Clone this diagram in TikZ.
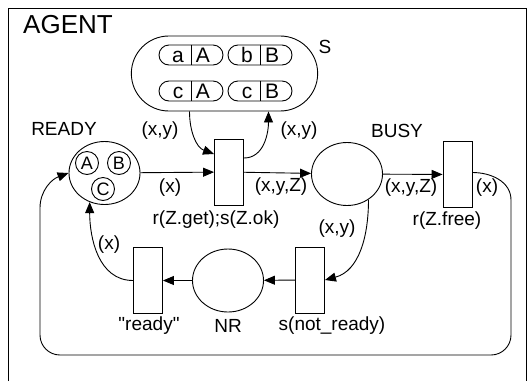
\documentclass[tikz,border=0pt]{standalone}
\usepackage{fontspec}
\setmainfont{Liberation Sans}
\usetikzlibrary{arrows.meta, shapes.geometric, shapes.misc}

\begin{document}
\begin{tikzpicture}[x=1pt, y=-1pt, >={Triangle[length=11pt,width=9pt]}, line width=0.9pt,
    place/.style={ellipse, draw, minimum width=71pt, minimum height=63pt, inner sep=0pt},
    trans/.style={rectangle, draw, minimum width=29pt, minimum height=66pt, inner sep=0pt},
    lbl/.style={font=\fontsize{19}{19}\selectfont, inner sep=0pt},
    token/.style={circle, draw, minimum size=23pt, inner sep=0pt, font=\fontsize{18}{18}\selectfont},
    pill/.style={rounded rectangle, draw, minimum width=64pt, minimum height=20pt, inner sep=0pt},
    pilltxt/.style={font=\fontsize{21}{21}\selectfont, inner sep=0pt, anchor=base}]
    \useasboundingbox (0,0) rectangle (527,381);

    % 1. Khung AGENT
    \draw (8,381) -- (8,8) -- (526,8) -- (526,381);
    \node[lbl, font=\fontsize{26}{26}\selectfont] (agent) at (68,25) {AGENT};

    % 2. Vị trí S với các thẻ
    \node[rounded rectangle, draw, minimum width=193pt, minimum height=75pt] (s) at (224.5,73.5) {};
    \node[lbl] (slbl) at (325,47) {S};
    \foreach \n/\px/\py/\lt/\rt in {paA/191/55/a/A, pbB/260/55/b/B, pcA/191/91/c/A, pcB/260/91/c/B} {
        \node[pill] (\n) at (\px,\py) {};
        \draw (\n.north) -- (\n.south);
        \node[pilltxt] (\n l) at (\px-13,\py+7.5) {\lt};
        \node[pilltxt] (\n r) at (\px+12,\py+7.5) {\rt};
    }

    % 3. Các vị trí
    \node[place] (ready) at (104.5,173) {};
    \node[place] (busy) at (347,174) {};
    \node[place] (nr) at (228,280.5) {};
    \node[token] (ta) at (87,163) {A};
    \node[token] (tb) at (119,163) {B};
    \node[token] (tc) at (103,189) {C};

    % 4. Các chuyển tiếp
    \node[trans] (tget) at (229,172) {};
    \node[trans] (tfree) at (457.5,174.5) {};
    \node[trans] (tnot) at (310,280) {};
    \node[trans] (tready) at (148,280.5) {};

    % 5. Nhãn
    \node[lbl] (readylbl) at (64,129) {READY};
    \node[lbl] (busylbl) at (397,131) {BUSY};
    \node[lbl] (nrlbl) at (228,326) {NR};
    \node[lbl] (getlbl) at (216,220) {r(Z.get);s(Z.ok)};
    \node[lbl] (freelbl) at (447,221) {r(Z.free)};
    \node[lbl] (notlbl) at (332,326) {s(not\_ready)};
    \node[lbl] (readyq) at (149,326) {\textquotedbl ready\textquotedbl};

    % 6. Nhãn cung
    \node[lbl] (lxy1) at (160,131) {(x,y)};
    \node[lbl] (lxy2) at (299,131) {(x,y)};
    \node[lbl] (lx1) at (170,188) {(x)};
    \node[lbl] (lxyz1) at (281,187) {(x,y,Z)};
    \node[lbl] (lxyz2) at (411,188) {(x,y,Z)};
    \node[lbl] (lx2) at (487,188) {(x)};
    \node[lbl] (lxy3) at (337,229) {(x,y)};
    \node[lbl] (lx3) at (109,245) {(x)};

    % 7. Các cung
    \draw[->] (ready) -- (tget);
    \draw[->] ([xshift=-35pt]s.south) to[out=-90, in=160] ([yshift=18pt]tget.west);
    \draw[->] ([yshift=14pt]tget.east) to[out=0, in=-90] ([xshift=44pt]s.south);
    \draw[->] (tget) -- (busy);
    \draw[->] (busy) -- (tfree);
    \draw[->] (busy.-50) to[out=-90, in=15] (tnot.east);
    \draw[->] (tnot) -- (nr);
    \draw[->] (nr) -- (tready);
    \draw[->] (tready.west) to[out=180, in=-90] (ready.243);

    % 8. Vòng quay lại READY
    \coordinate (loopne) at (511,200);
    \coordinate (loopse) at (511,335);
    \coordinate (loopsb) at (491,355);
    \coordinate (loopsw) at (60,355);
    \coordinate (loopws) at (40,335);
    \coordinate (loopnw) at (40,208);
    \draw[->] ([yshift=2pt]tfree.east) to[out=0, in=90] (loopne) -- (loopse)
        to[out=-90, in=0] (loopsb) -- (loopsw) to[out=180, in=-90] (loopws)
        -- (loopnw) to[out=90, in=200] (ready.west);
\end{tikzpicture}
\end{document}
